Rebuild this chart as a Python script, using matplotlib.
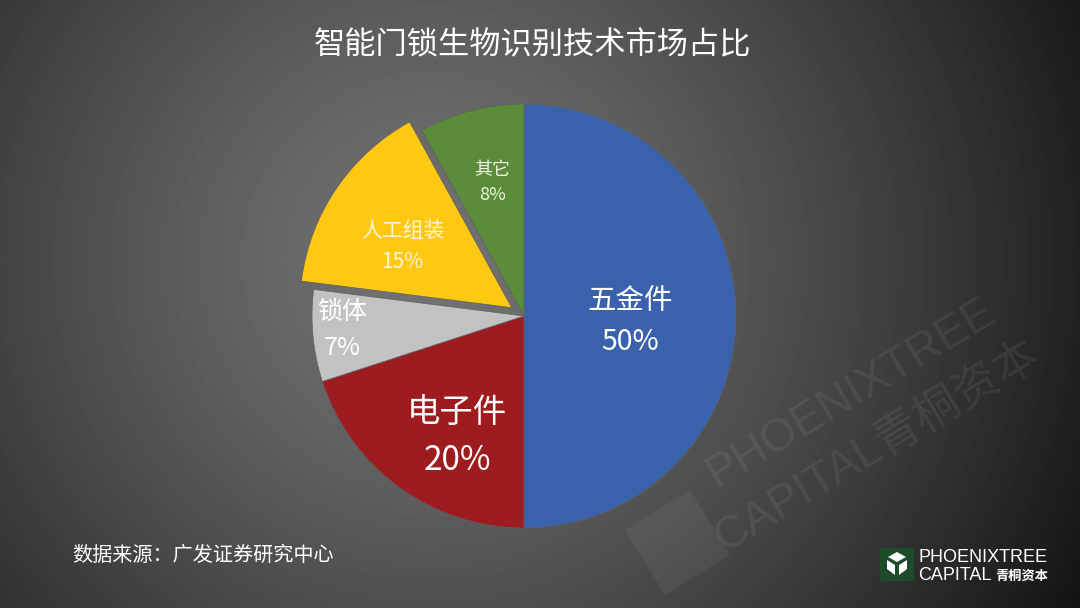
import numpy as np
import matplotlib
matplotlib.use("Agg")
import matplotlib.pyplot as plt
from matplotlib.patches import Rectangle, Polygon

plt.rcParams['font.family'] = ['Noto Sans CJK SC', 'DejaVu Sans']

# data
names = ['五金件', '电子件', '锁体', '人工组装', '其它']
shares = [50, 20, 7, 15, 8]
colors = ['#3A62AC', '#9E1B20', '#C2C2C2', '#FFC812', '#5B8C3A']
explode = [0, 0, 0, 0.07, 0]
label_r = [0.5, 0.65, 0.86, 0.59, 0.645]
label_rot = [-3, 7, -1, 5, -1]  # small angle nudges for label placement
label_size = [20.5, 24, 18, 15, 13]
label_col = ['white', 'white', 'white', '#FFF6DA', '#EEF4E4']

fig = plt.figure(figsize=(10.8, 6.08), dpi=100)

# background radial gradient
bg = fig.add_axes([0, 0, 1, 1])
yy, xx = np.mgrid[0:608, 0:1080]
d = np.sqrt((xx - 430) ** 2 + (yy - 260) ** 2) / 760.0
v = np.clip(115 - 100 * d ** 1.3, 14, 255) / 255.0
bg.imshow(v, cmap='gray', vmin=0, vmax=1, extent=[0, 1080, 608, 0], aspect='auto')
bg.set_xlim(0, 1080)
bg.set_ylim(608, 0)
bg.axis('off')

# faint watermark
bg.text(851, 393, 'PHOENIXTREE', rotation=31, fontsize=33, color='white', alpha=0.07,
        family='Liberation Sans', ha='center', va='center', rotation_mode='anchor')
bg.text(878, 447, 'CAPITAL青桐资本', rotation=31, fontsize=33, color='white', alpha=0.07,
        family=['Liberation Sans', 'Noto Sans CJK SC'], ha='center', va='center',
        rotation_mode='anchor')
bg.add_patch(Polygon([[625, 530], [690, 490], [730, 555], [665, 595]], closed=True,
                     color='white', alpha=0.05, lw=0))

# pie
ax = fig.add_axes([269.6 / 1080, 37.6 / 608, 508.8 / 1080, 508.8 / 608])
wedges, _ = ax.pie(shares, colors=colors, startangle=90, counterclock=False,
                   explode=explode, radius=1,
                   wedgeprops=dict(linewidth=0.5, edgecolor='#606060'))
ax.set_xlim(-1.2, 1.2)
ax.set_ylim(-1.2, 1.2)
ax.set_aspect('equal')
ax.axis('off')

for w, n, s, r, a, fs, c in zip(wedges, names, shares, label_r, label_rot, label_size, label_col):
    mid = np.deg2rad((w.theta1 + w.theta2) / 2 + a)
    cx, cy = w.center
    ax.text(cx + r * np.cos(mid), cy + r * np.sin(mid), f'{n}\n{s}%',
            ha='center', va='center', fontsize=fs, color=c, linespacing=1.5)

# title and source
fig.text(0.493, 0.926, '智能门锁生物识别技术市场占比', ha='center', va='center',
         fontsize=22.5, color='white')
fig.text(72 / 1080, 1 - 555 / 608, '数据来源：广发证券研究中心', ha='left', va='center',
         fontsize=14.5, color='white')

# logo
bg.add_patch(Rectangle((880, 548), 34, 33, color='#1E4B2A', lw=0))
bg.add_patch(Polygon([[888, 557], [897, 552], [906, 557], [897, 562]], closed=True,
                     color='white', lw=0))
bg.add_patch(Polygon([[887, 560], [895, 565], [895, 575], [887, 569]], closed=True,
                     color='white', lw=0))
bg.add_patch(Polygon([[907, 560], [899, 565], [899, 575], [907, 569]], closed=True,
                     color='white', lw=0))
bg.text(918, 557, 'PHOENIXTREE', fontsize=13, color='white', family='Liberation Sans',
        ha='left', va='center')
bg.text(918, 575, 'CAPITAL', fontsize=13, color='white', family='Liberation Sans',
        ha='left', va='center')
bg.text(995, 576, '青桐资本', fontsize=9.5, color='white', ha='left', va='center',
        fontweight='bold')

fig.savefig('out.png', dpi=100)
